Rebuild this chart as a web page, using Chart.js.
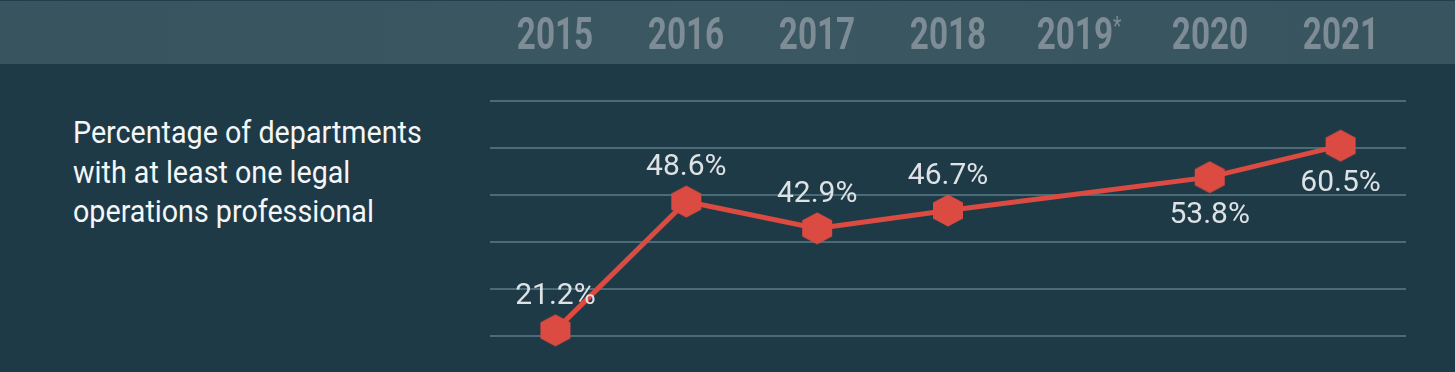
<!DOCTYPE html>
<html>
<head>
<meta charset="utf-8">
<script src="https://cdn.jsdelivr.net/npm/chart.js@4.4.1/dist/chart.umd.min.js"></script>
<style>
  html, body { margin: 0; padding: 0; }
  body {
    width: 1455px; height: 372px; overflow: hidden; position: relative;
    background: #1e3a47;
  }
  #band {
    position: absolute; left: 0; top: 1px; width: 1455px; height: 63px;
    background: linear-gradient(90deg, #38555f 0%, #3a5762 50%, #37545f 100%);
  }
  #topline { position: absolute; left: 0; top: 0; width: 1455px; height: 1px; background: #22404b; }
  #label {
    position: absolute; left: 73px; top: 113px;
    font-family: Roboto, "Noto Sans", sans-serif; font-size: 31px; line-height: 39.5px;
    color: #f4f6f7; white-space: nowrap;
    transform: scaleX(0.925); transform-origin: left top;
  }
  .year {
    position: absolute; top: 8px; width: 200px; margin-left: -100px; text-align: center;
    font-family: Roboto, sans-serif; font-weight: bold; font-size: 45px; line-height: 52px;
    color: #7e8c95; white-space: nowrap;
    transform: scaleX(0.74); transform-origin: center top;
  }
  .year sup { font-size: 26px; vertical-align: 0; position: relative; top: -14px; font-weight: normal; }
  #wrap { position: absolute; left: 0; top: 0; width: 1455px; height: 372px; }
</style>
</head>
<body>
<div id="topline"></div>
<div id="band"></div>
<div id="label">Percentage of departments<br>with at least one legal<br>operations professional</div>
<div id="wrap"><canvas id="c" width="1455" height="372"></canvas></div>
<script>
const years = ["2015", "2016", "2017", "2018", "2019*", "2020", "2021"];
const percentages = [21.2, 48.6, 42.9, 46.7, null, 53.8, 60.5];
const yTicks = [20, 30, 40, 50, 60, 70];
const labelsBelow = [5, 6];

const RED = '#dc4b41';

function hexagon() {
  const cv = document.createElement('canvas');
  cv.width = 32; cv.height = 33;
  const g = cv.getContext('2d');
  g.fillStyle = RED;
  g.beginPath();
  g.moveTo(16, 0.5);
  g.lineTo(31, 8.5);
  g.lineTo(31, 24.5);
  g.lineTo(16, 32.5);
  g.lineTo(1, 24.5);
  g.lineTo(1, 8.5);
  g.closePath();
  g.fill();
  return cv;
}

const valueLabels = {
  id: 'valueLabels',
  afterDatasetsDraw(chart) {
    const ctx = chart.ctx;
    const meta = chart.getDatasetMeta(0);
    ctx.save();
    ctx.font = '30px Roboto, "Noto Sans", sans-serif';
    ctx.fillStyle = '#dde2e5';
    ctx.textAlign = 'center';
    ctx.textBaseline = 'middle';
    meta.data.forEach((pt, i) => {
      const v = percentages[i];
      if (v === null || v === undefined) return;
      const below = labelsBelow.includes(i);
      const y = below ? pt.y + 38 : pt.y - 34;
      ctx.fillText(v.toFixed(1) + '%', pt.x, y);
    });
    ctx.restore();
  }
};

const chart = new Chart(document.getElementById('c'), {
  type: 'line',
  data: {
    labels: years,
    datasets: [{
      data: percentages,
      borderColor: RED,
      borderWidth: 5,
      pointStyle: hexagon(),
      pointRadius: 16,
      pointHoverRadius: 16,
      spanGaps: true,
      tension: 0,
      clip: false
    }]
  },
  options: {
    responsive: false,
    animation: false,
    events: [],
    layout: { padding: { left: 490, right: 49, top: 101, bottom: 36 } },
    plugins: { legend: { display: false }, tooltip: { enabled: false } },
    scales: {
      x: {
        display: false,
        offset: true,
        grid: { display: false, drawTicks: false }
      },
      y: {
        min: yTicks[0],
        max: yTicks[yTicks.length - 1],
        afterBuildTicks(axis) { axis.ticks = yTicks.map(v => ({ value: v })); },
        ticks: { display: false },
        border: { display: false },
        grid: { color: '#4a6b77', lineWidth: 2, drawTicks: false }
      }
    }
  },
  plugins: [valueLabels]
});

const xs = chart.scales.x;
years.forEach((yr, i) => {
  const d = document.createElement('div');
  d.className = 'year';
  d.style.left = xs.getPixelForValue(i) + 'px';
  if (yr.endsWith('*')) {
    d.innerHTML = yr.slice(0, -1) + '<sup>*</sup>';
  } else {
    d.textContent = yr;
  }
  document.body.appendChild(d);
});
</script>
</body>
</html>
